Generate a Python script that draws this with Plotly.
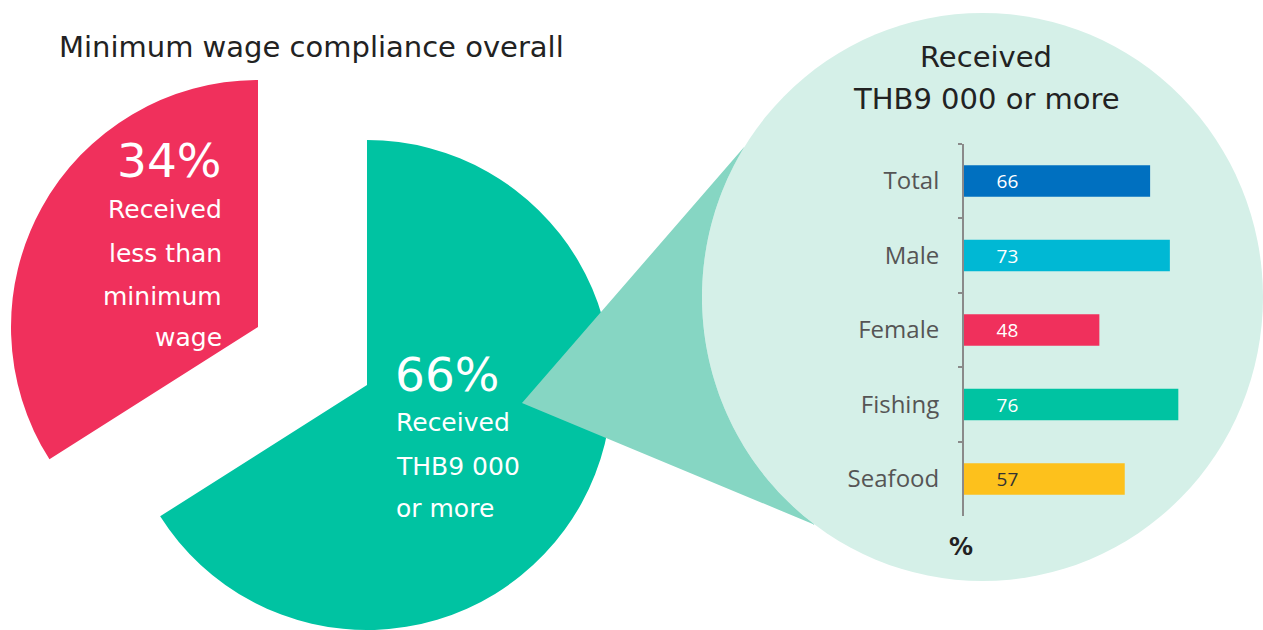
import numpy as np
import plotly.graph_objects as go

W, H = 1263, 630

# ---------------- data ----------------
overall_labels = ["Received THB9 000 or more", "Received less than minimum wage"]
overall_values = [66, 34]
categories = ["Total", "Male", "Female", "Fishing", "Seafood"]
values = [66, 73, 48, 76, 57]
bar_colors = ["#0070C0", "#00B8D4", "#F0305C", "#00C3A2", "#FDC11C"]
value_text_colors = ["white", "white", "white", "white", "#333333"]

RED = "#F0305C"
GREEN = "#00C3A2"
WEDGE = "#86D6C3"
BUBBLE = "#D5F0E8"
TXT = "#222222"
FONT = "DejaVu Sans"
LFONT = "Open Sans"
TFONT = "DejaVu Sans"
NONE = "rgba(0,0,0,0)"


def px(x):
    return x / W


def py(y):
    return 1 - y / H


def pie_domain(cx, cy, r):
    return dict(x=[px(cx - r), px(cx + r)], y=[py(cy + r), py(cy - r)])


fig = go.Figure()

# exploded pie: each slice drawn by its own pie trace (other slice transparent)
fig.add_trace(go.Pie(
    labels=overall_labels, values=overall_values, sort=False,
    direction="clockwise", rotation=0,
    marker=dict(colors=[NONE, RED], line=dict(width=0)),
    textinfo="none", hoverinfo="skip", showlegend=False,
    domain=pie_domain(258, 327, 247),
))
fig.add_trace(go.Pie(
    labels=overall_labels, values=overall_values, sort=False,
    direction="clockwise", rotation=0,
    marker=dict(colors=[GREEN, NONE], line=dict(width=0)),
    textinfo="none", hoverinfo="skip", showlegend=False,
    domain=pie_domain(367, 385, 245),
))

# bar chart inside the bubble
pad = "\u00a0" * 6
fig.add_trace(go.Bar(
    y=categories, x=values, orientation="h",
    marker=dict(color=bar_colors, line=dict(width=0)),
    text=[pad + str(v) for v in values],
    textposition="inside", insidetextanchor="start",
    textfont=dict(family=LFONT, size=19, color=value_text_colors),
    constraintext="none",
    hoverinfo="skip", showlegend=False, width=0.42,
))

# ---------------- decorations ----------------
ecx, ecy, erx, ery = (702 + 1263) / 2, (13 + 581) / 2, (1263 - 702) / 2, (581 - 13) / 2
apex = np.array([522.0, 403.0])


def hit(direction):
    d = np.array(direction, float)
    d /= np.linalg.norm(d)
    ox, oy = (apex[0] - ecx) / erx, (apex[1] - ecy) / ery
    dx, dy = d[0] / erx, d[1] / ery
    a = dx * dx + dy * dy
    b = 2 * (ox * dx + oy * dy)
    c = ox * ox + oy * oy - 1
    t = (-b - np.sqrt(b * b - 4 * a * c)) / (2 * a)
    return apex + t * d


p_up = hit((217, -250))
p_lo = hit((238, 99))
t_up = np.arctan2((p_up[1] - ecy) / ery, (p_up[0] - ecx) / erx) % (2 * np.pi)
t_lo = np.arctan2((p_lo[1] - ecy) / ery, (p_lo[0] - ecx) / erx) % (2 * np.pi)
ts = np.linspace(t_up, t_lo, 60)
pts = [apex, p_up] + [np.array([ecx + erx * np.cos(t), ecy + ery * np.sin(t)]) for t in ts] + [p_lo]
path = "M " + " L ".join(f"{px(p[0]):.5f},{py(p[1]):.5f}" for p in pts) + " Z"

shapes = [
    dict(type="circle", xref="paper", yref="paper",
         x0=px(702), x1=px(1263), y0=py(581), y1=py(13),
         fillcolor=BUBBLE, line=dict(width=0), layer="below"),
    dict(type="path", xref="paper", yref="paper", path=path,
         fillcolor=WEDGE, line=dict(width=0), layer="above"),
]

annotations = []


def note(text, x, y, size, color="white", anchor="left", family=FONT, weight=None):
    f = dict(family=family, size=size, color=color)
    if weight:
        f["weight"] = weight
    annotations.append(dict(text=text, x=px(x), y=py(y), xref="paper", yref="paper",
                            xanchor=anchor, yanchor="middle", showarrow=False, font=f))


note("Minimum wage compliance overall", 311, 47, 29, TXT, "center", TFONT)
note("Received", 986, 57, 29, TXT, "center", TFONT)
note("THB9 000 or more", 986, 99, 29, TXT, "center", TFONT)
note("%", 961, 547, 24, TXT, "center", TFONT, 700)

note("34%", 223, 160, 47, "white", "right")
for txt, yy in zip(["Received", "less than", "minimum", "wage"], [210, 253, 296, 337]):
    note(txt, 224, yy, 25, "white", "right")

note("66%", 393, 374, 47, "white", "left")
for txt, yy in zip(["Received", "THB9 000", "or more"], [423, 466, 508]):
    note(txt, 394, yy, 25, "white", "left")

fig.update_layout(
    width=W, height=H,
    margin=dict(l=0, r=0, t=0, b=0),
    paper_bgcolor="white", plot_bgcolor="rgba(0,0,0,0)",
    shapes=shapes, annotations=annotations,
    bargap=0.58,
    xaxis=dict(domain=[px(964), px(1246)], range=[0, 100], visible=False, fixedrange=True),
    yaxis=dict(domain=[py(516.25), py(143.75)], range=[4.5, -0.5], type="category",
               showline=True, linecolor="#8a8a8a", linewidth=2,
               ticks="outside", tickson="boundaries", ticklen=4, tickwidth=2, tickcolor="#8a8a8a",
               ticklabelstandoff=18, showgrid=False, zeroline=False, fixedrange=True,
               tickfont=dict(family=LFONT, size=24, color="#555555")),
)

fig.write_html("out.html", config={"displayModeBar": False},
               post_script="document.body.style.margin='0';document.body.style.overflow='hidden';")
